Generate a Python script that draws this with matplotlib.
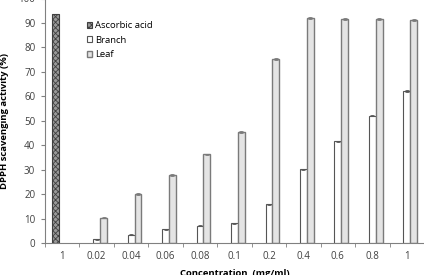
import matplotlib
matplotlib.use("Agg")
import matplotlib.pyplot as plt
import numpy as np

categories = ["1", "0.02", "0.04", "0.06", "0.08", "0.1", "0.2", "0.4", "0.6", "0.8", "1"]
ascorbic = [93.8, 0, 0, 0, 0, 0, 0, 0, 0, 0, 0]
branch = [0, 1.5, 3.3, 5.6, 7.1, 8.0, 15.8, 30.1, 41.6, 52.1, 62.2]
leaf = [0, 10.4, 20.0, 28.0, 36.3, 45.5, 75.4, 91.9, 91.8, 91.7, 91.1]
branch_err = [0, 0.2, 0.2, 0.2, 0.2, 0.2, 0.2, 0.3, 0.3, 0.3, 0.3]
leaf_err = [0, 0.3, 0.3, 0.4, 0.3, 0.4, 0.4, 0.4, 0.4, 0.4, 0.4]

plt.rcParams['font.family'] = ['Open Sans', 'DejaVu Sans']
plt.rcParams['hatch.linewidth'] = 0.6

fig = plt.figure(figsize=(4.24, 2.75), dpi=100)
ax = fig.add_axes([45/424, 32/275, 379/424, 244.5/275])

x = np.arange(len(categories))
w = 0.2
asc_vals = np.array(ascorbic, dtype=float)
mask = asc_vals > 0
ax.bar(x[mask] - w, asc_vals[mask], width=w, facecolor='#9a9a9a', edgecolor='#404040',
       hatch='xxxxxx', linewidth=0.8, label='Ascorbic acid')
ax.bar(x[1:], branch[1:], width=w, facecolor='white', edgecolor='#555555', linewidth=0.8,
       yerr=branch_err[1:], capsize=1.5, error_kw=dict(elinewidth=0.6, capthick=0.6, ecolor='#555555'),
       label='Branch')
ax.bar(x[1:] + w, leaf[1:], width=w, facecolor='#e4e4e4', edgecolor='#7a7a7a', linewidth=1.0,
       yerr=leaf_err[1:], capsize=1.5, error_kw=dict(elinewidth=0.6, capthick=0.6, ecolor='#7a7a7a'),
       label='Leaf')

ax.set_xlim(-0.5, len(categories) - 0.5)
ax.set_ylim(0, 100)
ax.set_yticks(np.arange(0, 101, 10))
ax.set_xticks(x)
ax.set_xticklabels(categories)
ax.set_xticks(np.arange(-0.5, len(categories) + 0.5, 1), minor=True)
ax.tick_params(axis='x', which='major', length=0, pad=6, labelsize=7, colors='#404040')
ax.tick_params(axis='x', which='minor', length=3, direction='out', color='#808080')
ax.tick_params(axis='y', length=3, direction='out', labelsize=7, colors='#404040', color='#808080', pad=4)

for s in ['top', 'right']:
    ax.spines[s].set_visible(False)
for s in ['left', 'bottom']:
    ax.spines[s].set_color('#808080')
    ax.spines[s].set_linewidth(0.8)

ax.set_ylabel('DPPH scavenging activity (%)', fontsize=6.8, fontweight='bold', labelpad=7)
ax.set_xlabel('Concentration  (mg/ml)', fontsize=6.8, fontweight='bold', labelpad=5)

leg = ax.legend(loc='upper left', bbox_to_anchor=(0.095, 0.93), frameon=False, fontsize=6.8,
                handlelength=0.6, handleheight=0.6, handletextpad=0.3, labelspacing=0.58,
                borderaxespad=0.2)

fig.savefig('out.png', dpi=100)
